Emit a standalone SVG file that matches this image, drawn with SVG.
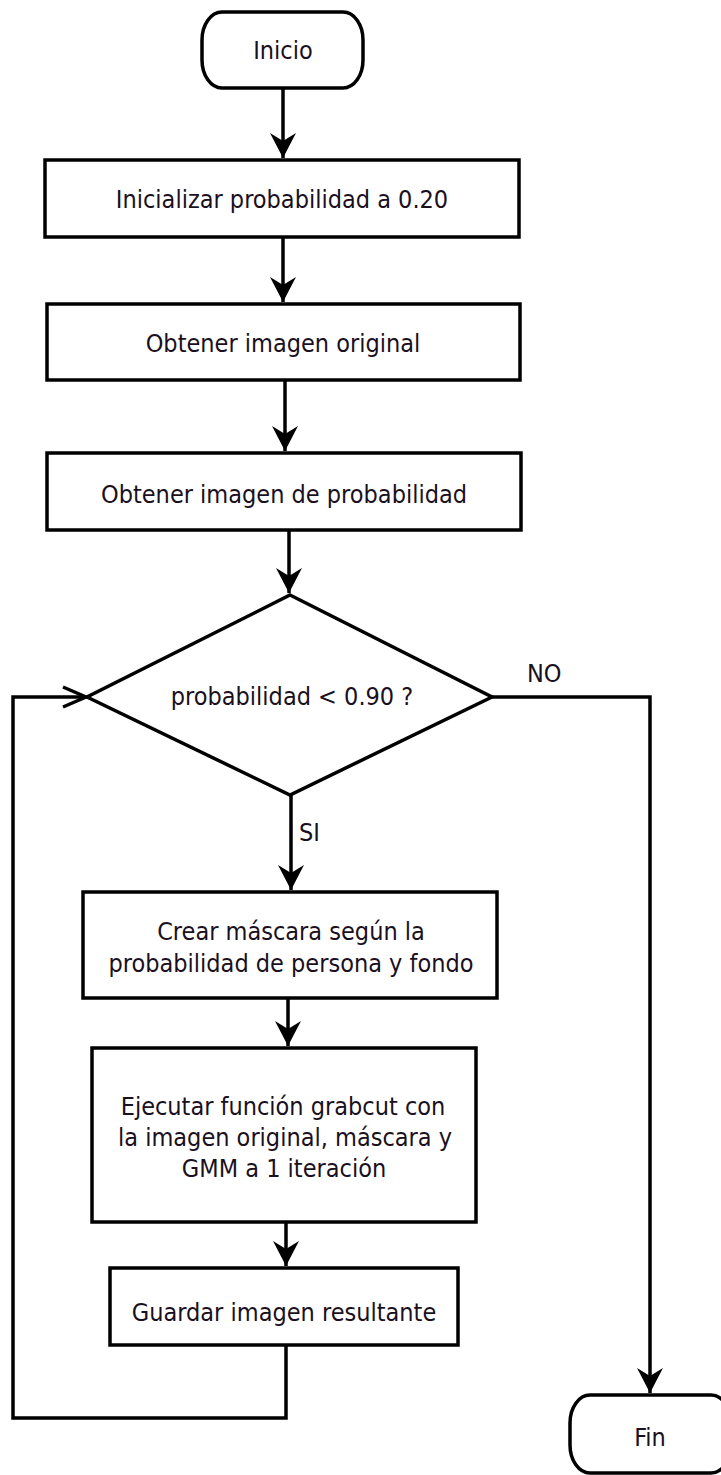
<svg xmlns="http://www.w3.org/2000/svg" width="721" height="1475" viewBox="0 0 721 1475">
  <style>
    .shape { fill: #ffffff; stroke: #000000; stroke-width: 3.5; }
    .edge { fill: none; stroke: #000000; stroke-width: 3.5; }
    .lbl { font-family: "DejaVu Sans Condensed", "DejaVu Sans", sans-serif; font-stretch: condensed; font-size: 25px; fill: #1a1020; text-anchor: middle; dominant-baseline: central; }
    .elbl { font-family: "DejaVu Sans Condensed", "DejaVu Sans", sans-serif; font-stretch: condensed; font-size: 25px; fill: #1a1020; dominant-baseline: central; }
  </style>
  <defs>
    <marker id="arrow" markerUnits="userSpaceOnUse" markerWidth="30" markerHeight="30" refX="0" refY="0" viewBox="-28 -15 30 30" orient="auto">
      <path d="M0,0 L-25,-13 L-17,0 L-25,13 Z" fill="#000000"/>
    </marker>
    <marker id="open" markerUnits="userSpaceOnUse" markerWidth="30" markerHeight="30" refX="0" refY="0" viewBox="-28 -15 30 30" orient="auto">
      <path d="M-23,-10 L0,0 L-23,10" fill="none" stroke="#000000" stroke-width="3.5"/>
    </marker>
  </defs>

  <g id="connectors">
    <line class="edge" x1="283" y1="88" x2="283" y2="158" marker-end="url(#arrow)"/>
    <line class="edge" x1="283" y1="237" x2="283" y2="302" marker-end="url(#arrow)"/>
    <line class="edge" x1="285" y1="380" x2="285" y2="451" marker-end="url(#arrow)"/>
    <line class="edge" x1="289" y1="530" x2="289" y2="593" marker-end="url(#arrow)"/>
    <line class="edge" x1="291" y1="795" x2="291" y2="890" marker-end="url(#arrow)"/>
    <text class="elbl" x="299" y="832">SI</text>
    <line class="edge" x1="288" y1="998" x2="288" y2="1046" marker-end="url(#arrow)"/>
    <line class="edge" x1="286" y1="1222" x2="286" y2="1266" marker-end="url(#arrow)"/>
    <polyline class="edge" points="286,1345 286,1418 13,1418 13,697 86,697" marker-end="url(#open)"/>
    <polyline class="edge" points="492,697 650,697 650,1393" marker-end="url(#arrow)"/>
    <text class="elbl" x="527" y="673">NO</text>
  </g>

  <g id="inicio">
    <rect class="shape" x="202" y="12" width="161" height="76" rx="20" ry="28"/>
    <text class="lbl" x="283" y="50">Inicio</text>
  </g>

  <g id="inicializar">
    <rect class="shape" x="45" y="160" width="474" height="77"/>
    <text class="lbl" x="282" y="199">Inicializar probabilidad a 0.20</text>
  </g>

  <g id="obtener-original">
    <rect class="shape" x="47" y="304" width="473" height="76"/>
    <text class="lbl" x="283" y="343">Obtener imagen original</text>
  </g>

  <g id="obtener-probabilidad">
    <rect class="shape" x="47" y="453" width="474" height="77"/>
    <text class="lbl" x="284" y="494">Obtener imagen de probabilidad</text>
  </g>

  <g id="decision">
    <polygon class="shape" points="290,595 492,697 290,795 87,697"/>
    <text class="lbl" x="292" y="696">probabilidad &lt; 0.90 ?</text>
  </g>

  <g id="crear-mascara">
    <rect class="shape" x="83" y="892" width="414" height="106"/>
    <text class="lbl" x="291" y="931">Crear máscara según la</text>
    <text class="lbl" x="291" y="963">probabilidad de persona y fondo</text>
  </g>

  <g id="grabcut">
    <rect class="shape" x="92" y="1048" width="384" height="174"/>
    <text class="lbl" x="283" y="1106">Ejecutar función grabcut con</text>
    <text class="lbl" x="285" y="1137">la imagen original, máscara y</text>
    <text class="lbl" x="284" y="1168">GMM a 1 iteración</text>
  </g>

  <g id="guardar">
    <rect class="shape" x="110" y="1268" width="348" height="77"/>
    <text class="lbl" x="284" y="1312">Guardar imagen resultante</text>
  </g>

  <g id="fin">
    <rect class="shape" x="570" y="1395" width="161" height="78" rx="20" ry="28"/>
    <text class="lbl" x="650" y="1437">Fin</text>
  </g>
</svg>
